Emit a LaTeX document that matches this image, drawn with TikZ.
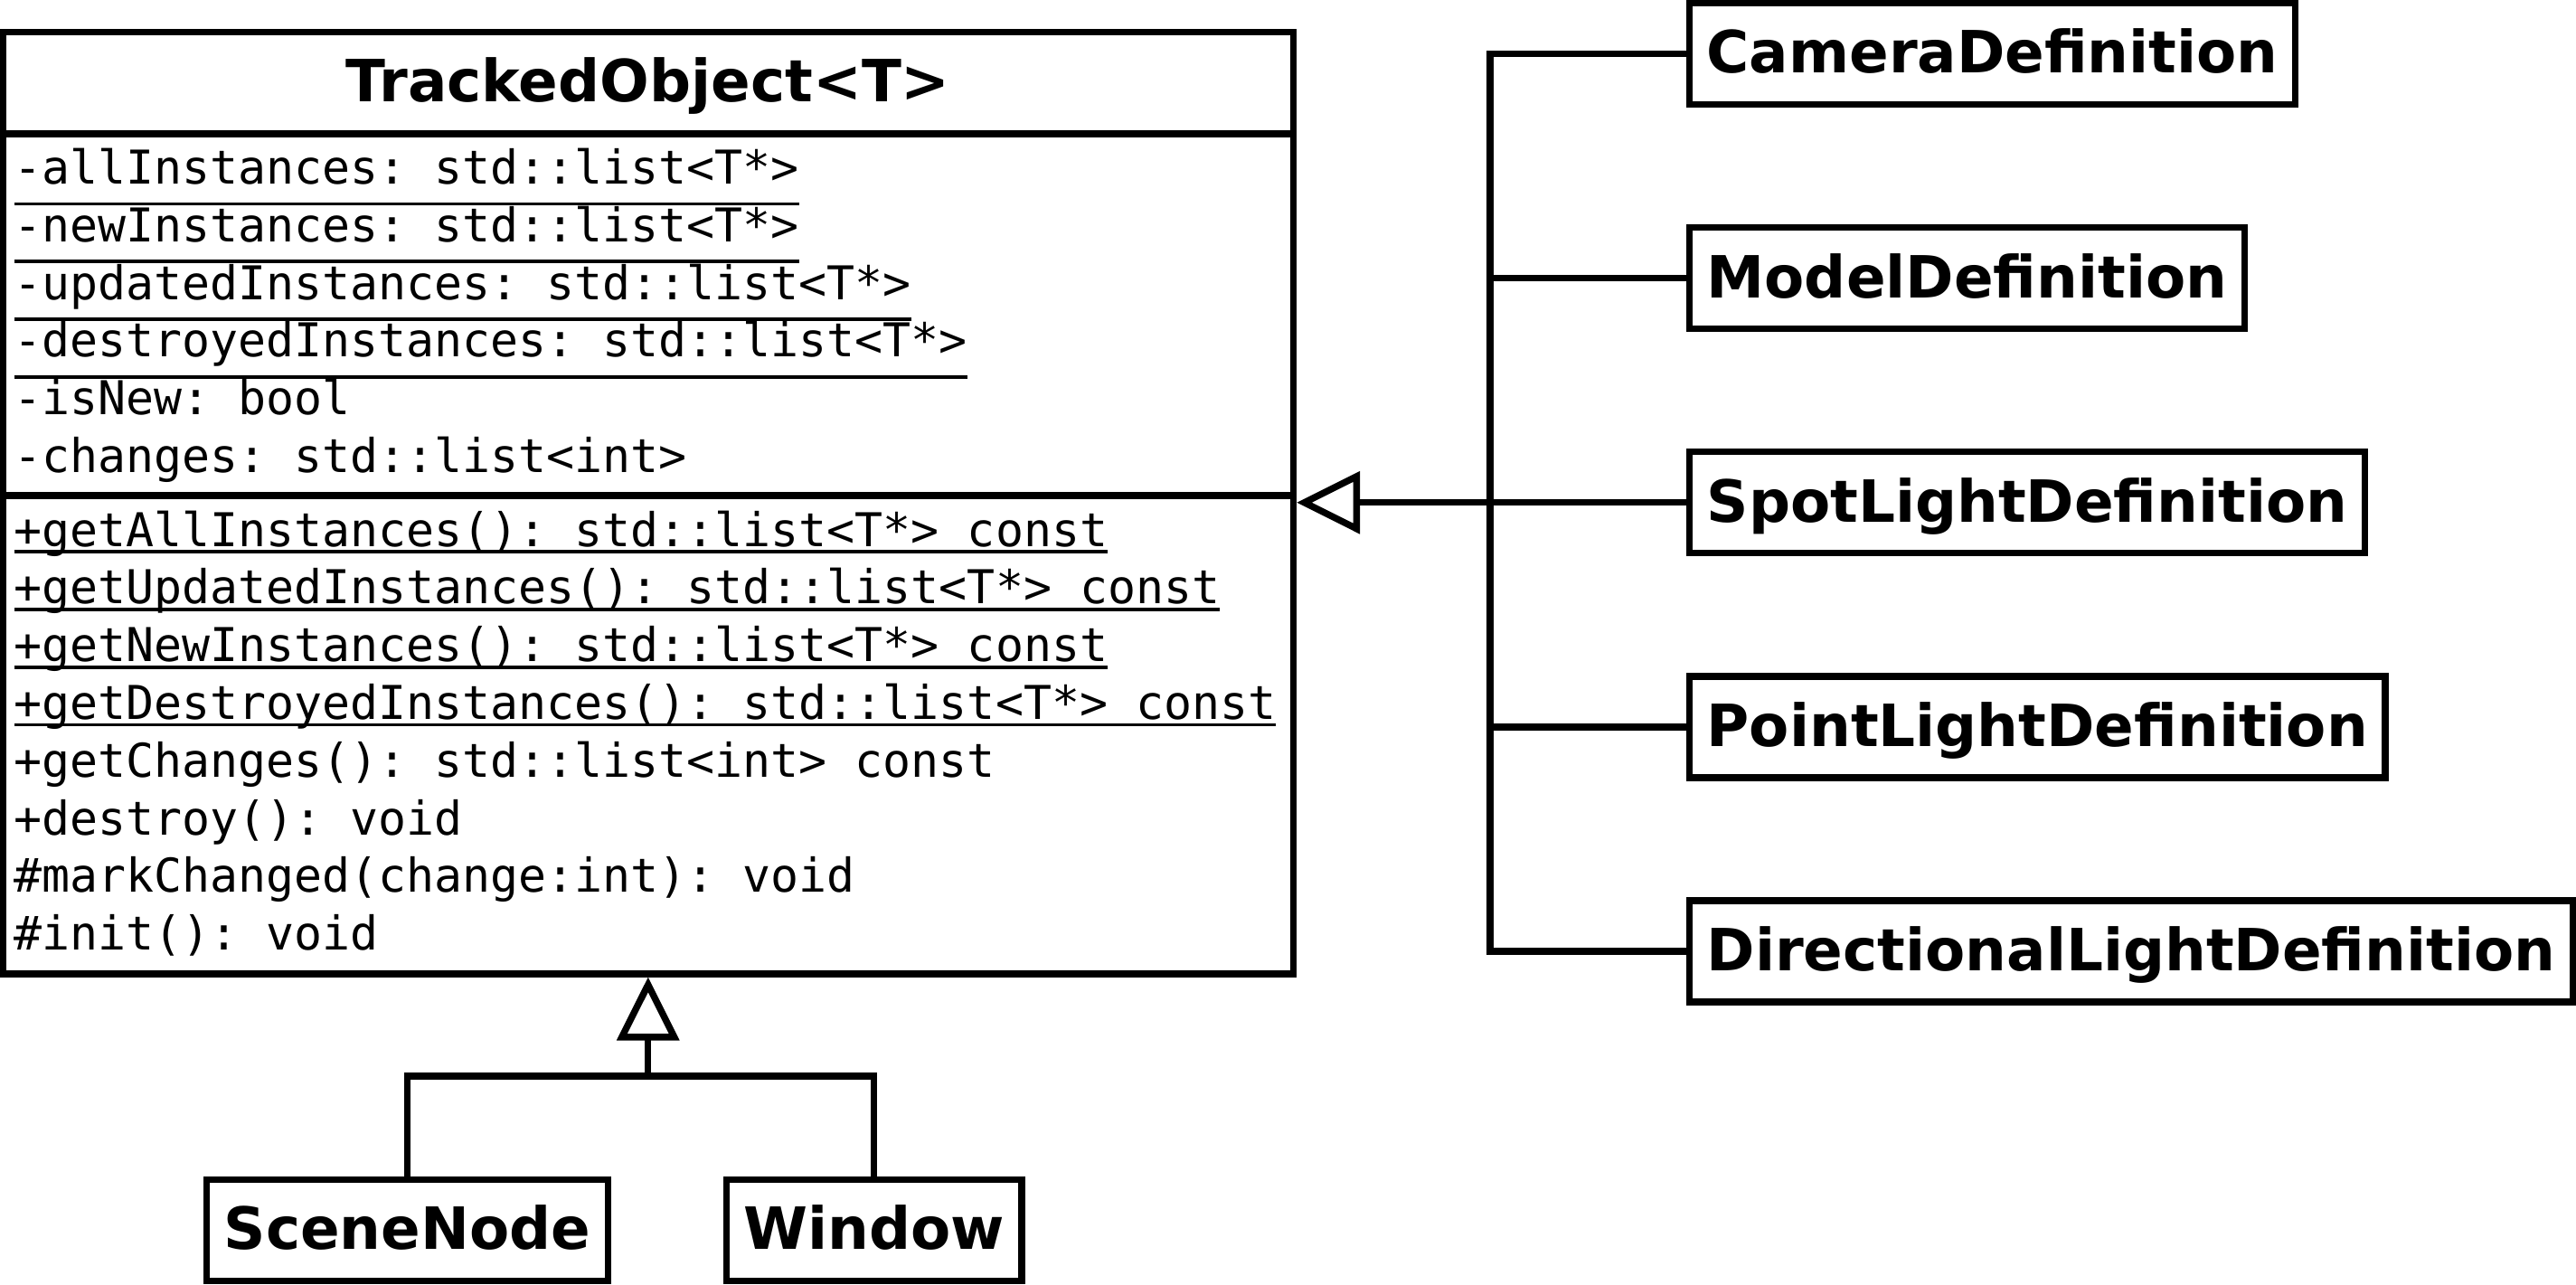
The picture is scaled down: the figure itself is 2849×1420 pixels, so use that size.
\documentclass[tikz,border=0pt]{standalone}
\usepackage{fontspec}
\setmainfont{DejaVu Sans}
\setmonofont{DejaVu Sans Mono}
\usetikzlibrary{arrows.meta,positioning}

\begin{document}
\begin{tikzpicture}[x=0.01cm,y=-0.01cm,line width=2.1pt,
cls/.style={draw=black,rectangle,minimum height=1.12cm,inner xsep=0.19cm,inner ysep=0pt,text height=13.3pt,text depth=1.1pt,font=\bfseries\fontsize{18.3pt}{22pt}\selectfont},
mem/.style={anchor=base west,inner sep=0pt,outer sep=0pt,font=\ttfamily\fontsize{14.65pt}{18pt}\selectfont},
uline/.style={line width=1.1pt},
gen/.style={-{Triangle[open,length=19.9pt,width=19.3pt]}}]
	\useasboundingbox (0,0) rectangle (2849,1420);
	% base class
	\node[draw=black,minimum width=14.265cm,minimum height=10.405cm] at (716.75,556.25) (obj) {};
	\node[anchor=base,font=\bfseries\fontsize{18.3pt}{22pt}\selectfont] at (716.75,112.5) (title) {TrackedObject<T>};
	\draw (3.5,148) -- (1430,148);
	\draw (3.5,548) -- (1430,548);
	
	% attributes
	\node[mem] at (15.5,203.5) (a1) {-allInstances: std::list<T*>};
	\node[mem] at ([yshift=-18.15pt]a1.base west) (a2) {-newInstances: std::list<T*>};
	\node[mem] at ([yshift=-18.15pt]a2.base west) (a3) {-updatedInstances: std::list<T*>};
	\node[mem] at ([yshift=-18.15pt]a3.base west) (a4) {-destroyedInstances: std::list<T*>};
	\node[mem] at ([yshift=-18.15pt]a4.base west) (a5) {-isNew: bool};
	\node[mem] at ([yshift=-18.15pt]a5.base west) (a6) {-changes: std::list<int>};
	\draw[uline] ([yshift=-6.26pt]a1.base west) -- ([yshift=-6.26pt]a1.base east);
	\draw[uline] ([yshift=-6.26pt]a2.base west) -- ([yshift=-6.26pt]a2.base east);
	\draw[uline] ([yshift=-6.26pt]a3.base west) -- ([yshift=-6.26pt]a3.base east);
	\draw[uline] ([yshift=-6.26pt]a4.base west) -- ([yshift=-6.26pt]a4.base east);
	
	% methods
	\node[mem] at (15.5,604) (m1) {+getAllInstances(): std::list<T*> const};
	\node[mem] at ([yshift=-18.15pt]m1.base west) (m2) {+getUpdatedInstances(): std::list<T*> const};
	\node[mem] at ([yshift=-18.15pt]m2.base west) (m3) {+getNewInstances(): std::list<T*> const};
	\node[mem] at ([yshift=-18.15pt]m3.base west) (m4) {+getDestroyedInstances(): std::list<T*> const};
	\node[mem] at ([yshift=-18.15pt]m4.base west) (m5) {+getChanges(): std::list<int> const};
	\node[mem] at ([yshift=-18.15pt]m5.base west) (m6) {+destroy(): void};
	\node[mem] at ([yshift=-18.15pt]m6.base west) (m7) {\#markChanged(change:int): void};
	\node[mem] at ([yshift=-18.15pt]m7.base west) (m8) {\#init(): void};
	\draw[uline] ([yshift=-1.7pt]m1.base west) -- ([yshift=-1.7pt]m1.base east);
	\draw[uline] ([yshift=-1.7pt]m2.base west) -- ([yshift=-1.7pt]m2.base east);
	\draw[uline] ([yshift=-1.7pt]m3.base west) -- ([yshift=-1.7pt]m3.base east);
	\draw[uline] ([yshift=-1.7pt]m4.base west) -- ([yshift=-1.7pt]m4.base east);
	
	% subclasses
	\node[cls,anchor=west] at (1865,59.5) (cam) {CameraDefinition};
	\node[cls,anchor=north west] at ([yshift=-1.286cm]cam.south west) (model) {ModelDefinition};
	\node[cls,anchor=north west] at ([yshift=-1.286cm]model.south west) (spot) {SpotLightDefinition};
	\node[cls,anchor=north west] at ([yshift=-1.286cm]spot.south west) (point) {PointLightDefinition};
	\node[cls,anchor=north west] at ([yshift=-1.286cm]point.south west) (dir) {DirectionalLightDefinition};
	\node[cls] at (450.5,1360.5) (scene) {SceneNode};
	\node[cls,right] at ([xshift=1.236cm]scene.east) (win) {Window};
	
	\coordinate (spine) at (1648,0);
	\coordinate (bar) at (716.75,1190);
	\draw (cam.west) -- (cam.west -| spine) -- (dir.west -| spine) -- (dir.west);
	\draw (model.west) -- (model.west -| spine);
	\draw (point.west) -- (point.west -| spine);
	\draw[gen] (spot.west) -- (spot.west -| obj.east);
	\draw (scene.north) |- (bar) -| (win.north);
	\draw[gen] (bar) -- (obj.south);
\end{tikzpicture}
\end{document}
